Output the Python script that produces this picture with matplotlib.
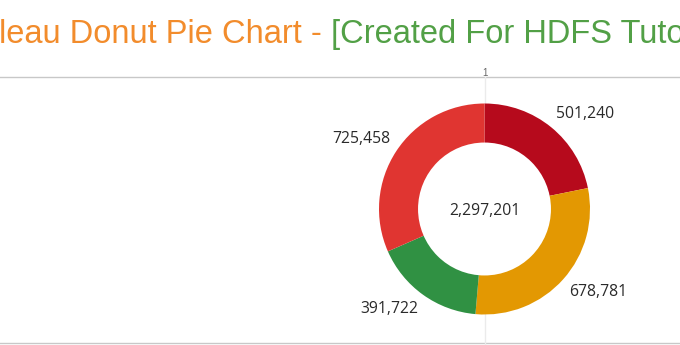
import matplotlib
matplotlib.use("Agg")
import numpy as np
import matplotlib.pyplot as plt
from matplotlib.lines import Line2D
from matplotlib.patches import Circle

# segment values, clockwise from 12 o'clock
segments = ["Segment A", "Segment B", "Segment C", "Segment D"]
sales = [501240, 678781, 391722, 725458]
colors = ["#B60A1C", "#E39802", "#309143", "#E03531"]
total = sum(sales)

title_left = "leau Donut Pie Chart - "
title_right = "[Created For HDFS Tuto"

W, H = 680, 345
fig = plt.figure(figsize=(W / 100, H / 100), dpi=100)
fig.patch.set_facecolor("white")

# pane frame lines (pixel coords measured from the top)
def hline(y, color, x0=0, x1=W, lw=1.0):
    fig.add_artist(Line2D([x0 / W, x1 / W], [1 - y / H, 1 - y / H],
                          transform=fig.transFigure, color=color, lw=lw,
                          zorder=-1))

def vline(x, y0, y1, color, lw=1.0):
    fig.add_artist(Line2D([x / W, x / W], [1 - y0 / H, 1 - y1 / H],
                          transform=fig.transFigure, color=color, lw=lw,
                          zorder=-1))

hline(77, "#c8c8c8")
hline(343, "#c8c8c8")
vline(485, 77, 345, "#ebebeb")
fig.text(485 / W, 1 - 73 / H, "1", ha="center", va="center",
         fontsize=7, color="#666666", family="Liberation Sans")

# donut
cx, cy, R = 484.5, 209, 105.5
hole = R * 0.63
box = 160
ax = fig.add_axes([(cx - box) / W, (H - cy - box) / H, 2 * box / W, 2 * box / H])
ax.patch.set_alpha(0)

wedges, _ = ax.pie(
    sales, colors=colors, startangle=90, counterclock=False, radius=R,
    wedgeprops=dict(linewidth=0),
)
ax.add_patch(Circle((0, 0), hole, facecolor="white", edgecolor="none", zorder=3))

label_font = dict(fontsize=11.3, color="#2a2a2a", family="Open Sans")
for w, v in zip(wedges, sales):
    mid = np.deg2rad((w.theta1 + w.theta2) / 2)
    x, y = 1.07 * R * np.cos(mid), 1.07 * R * np.sin(mid)
    ax.text(x, y, f"{v:,}",
            ha="left" if x > 0 else "right",
            va="bottom" if y > 0 else "top", **label_font)
ax.text(0, -2, f"{total:,}", ha="center", va="center", zorder=4, **label_font)

ax.set_xlim(-box, box)
ax.set_ylim(-box, box)
ax.set_aspect("equal")
ax.axis("off")

# two-tone title
t1 = fig.text(-1 / W, 1 - 43 / H, title_left, ha="left", va="baseline",
              fontsize=23.5, color="#F28C2C", family="Liberation Sans")
fig.canvas.draw()
bb = t1.get_window_extent()
fig.text(bb.x1 / W, 1 - 43 / H, title_right, ha="left", va="baseline",
         fontsize=23.5, color="#52A046", family="Liberation Sans")

fig.savefig("out.png", dpi=100, facecolor="white")
